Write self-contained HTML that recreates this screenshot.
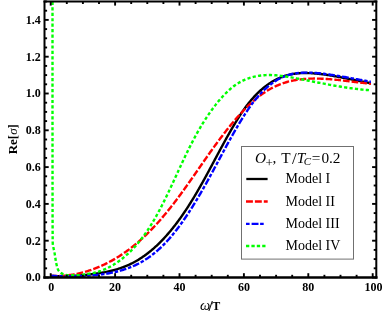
<!DOCTYPE html>
<html><head><meta charset="utf-8">
<style>
html,body{margin:0;padding:0;background:#fff;}
body{width:382px;height:319px;overflow:hidden;}
svg{display:block;}
text{font-family:"Liberation Serif",serif;}
svg{will-change:transform;}
</style></head><body>
<svg width="382" height="319" viewBox="0 0 382 319">
<rect width="382" height="319" fill="#fff"/>
<defs><clipPath id="c"><rect x="44.5" y="1.4" width="326.4" height="276.0"/></clipPath></defs>
<g clip-path="url(#c)" fill="none" stroke-width="2.4" stroke-linejoin="round">
<path d="M50.74 275.94 L51.77 275.99 L52.80 276.03 L53.84 276.07 L54.87 276.10 L55.91 276.13 L56.94 276.15 L57.98 276.17 L59.01 276.18 L60.05 276.19 L61.09 276.19 L62.13 276.19 L63.17 276.18 L64.21 276.17 L65.25 276.16 L66.29 276.14 L67.33 276.11 L68.37 276.08 L69.42 276.05 L70.46 276.01 L71.51 275.96 L72.55 275.92 L73.60 275.86 L74.65 275.80 L75.69 275.74 L76.74 275.68 L77.79 275.60 L78.84 275.53 L79.89 275.45 L80.95 275.36 L82.00 275.28 L83.05 275.18 L84.11 275.08 L85.16 274.98 L86.22 274.88 L87.28 274.76 L88.33 274.65 L89.39 274.53 L90.45 274.41 L91.51 274.28 L92.57 274.14 L93.63 274.01 L94.69 273.86 L95.75 273.72 L96.81 273.56 L97.87 273.40 L98.93 273.24 L99.99 273.07 L101.05 272.89 L102.10 272.71 L103.16 272.52 L104.21 272.32 L105.26 272.11 L106.31 271.90 L107.36 271.68 L108.40 271.46 L109.44 271.22 L110.48 270.98 L111.51 270.73 L112.54 270.47 L113.57 270.20 L114.60 269.92 L115.62 269.64 L116.63 269.34 L117.64 269.04 L118.65 268.72 L119.65 268.40 L120.65 268.06 L121.64 267.72 L122.63 267.36 L123.61 267.00 L124.58 266.62 L125.55 266.23 L126.51 265.83 L127.47 265.42 L128.42 265.00 L129.36 264.56 L130.30 264.12 L131.23 263.67 L132.16 263.20 L133.08 262.73 L134.00 262.24 L134.90 261.75 L135.81 261.24 L136.70 260.72 L137.59 260.20 L138.48 259.67 L139.36 259.12 L140.23 258.57 L141.10 258.01 L141.96 257.44 L142.82 256.86 L143.67 256.27 L144.52 255.67 L145.36 255.06 L146.19 254.45 L147.02 253.83 L147.84 253.20 L148.66 252.56 L149.48 251.91 L150.28 251.26 L151.09 250.60 L151.88 249.93 L152.68 249.25 L153.46 248.57 L154.25 247.88 L155.02 247.18 L155.80 246.48 L156.56 245.77 L157.32 245.05 L158.08 244.33 L158.83 243.60 L159.58 242.86 L160.32 242.12 L161.06 241.38 L161.79 240.63 L162.52 239.87 L163.24 239.10 L163.96 238.34 L164.68 237.56 L165.39 236.78 L166.09 236.00 L166.79 235.21 L167.49 234.42 L168.18 233.62 L168.87 232.82 L169.55 232.02 L170.23 231.21 L170.90 230.40 L171.57 229.58 L172.24 228.76 L172.90 227.94 L173.55 227.11 L174.21 226.28 L174.85 225.45 L175.50 224.61 L176.14 223.77 L176.78 222.93 L177.41 222.09 L178.04 221.24 L178.66 220.39 L179.28 219.54 L179.90 218.69 L180.51 217.83 L181.12 216.98 L181.73 216.12 L182.33 215.25 L182.93 214.39 L183.52 213.53 L184.11 212.66 L184.70 211.79 L185.29 210.92 L185.87 210.04 L186.45 209.17 L187.02 208.29 L187.60 207.41 L188.17 206.53 L188.73 205.65 L189.30 204.77 L189.86 203.88 L190.42 203.00 L190.97 202.11 L191.52 201.22 L192.07 200.33 L192.62 199.43 L193.17 198.54 L193.71 197.64 L194.25 196.75 L194.79 195.85 L195.32 194.95 L195.86 194.05 L196.39 193.14 L196.92 192.24 L197.45 191.34 L197.97 190.43 L198.50 189.52 L199.02 188.62 L199.54 187.71 L200.06 186.80 L200.57 185.88 L201.09 184.97 L201.60 184.06 L202.11 183.15 L202.63 182.23 L203.14 181.32 L203.64 180.40 L204.15 179.48 L204.66 178.56 L205.16 177.64 L205.66 176.73 L206.17 175.81 L206.67 174.89 L207.17 173.96 L207.67 173.04 L208.17 172.12 L208.66 171.20 L209.16 170.27 L209.66 169.35 L210.15 168.43 L210.65 167.50 L211.15 166.58 L211.64 165.65 L212.14 164.73 L212.63 163.80 L213.12 162.88 L213.62 161.95 L214.11 161.03 L214.61 160.10 L215.10 159.18 L215.59 158.25 L216.09 157.32 L216.58 156.40 L217.08 155.47 L217.57 154.55 L218.07 153.62 L218.56 152.70 L219.06 151.77 L219.56 150.85 L220.05 149.92 L220.55 149.00 L221.05 148.07 L221.55 147.15 L222.05 146.23 L222.55 145.31 L223.05 144.38 L223.56 143.46 L224.06 142.54 L224.57 141.62 L225.07 140.70 L225.58 139.78 L226.09 138.86 L226.60 137.94 L227.11 137.03 L227.63 136.11 L228.14 135.19 L228.66 134.28 L229.18 133.37 L229.70 132.45 L230.22 131.54 L230.74 130.63 L231.27 129.72 L231.79 128.81 L232.32 127.90 L232.85 126.99 L233.39 126.09 L233.92 125.18 L234.46 124.28 L235.00 123.38 L235.54 122.48 L236.09 121.58 L236.64 120.68 L237.19 119.78 L237.74 118.89 L238.30 118.00 L238.86 117.11 L239.43 116.22 L240.00 115.34 L240.57 114.46 L241.15 113.58 L241.73 112.70 L242.32 111.83 L242.91 110.96 L243.51 110.10 L244.12 109.24 L244.73 108.38 L245.34 107.53 L245.96 106.68 L246.59 105.84 L247.23 105.00 L247.87 104.17 L248.52 103.34 L249.17 102.52 L249.83 101.70 L250.50 100.89 L251.18 100.08 L251.87 99.28 L252.56 98.49 L253.27 97.70 L253.98 96.92 L254.70 96.14 L255.42 95.38 L256.16 94.62 L256.90 93.87 L257.65 93.13 L258.41 92.39 L259.17 91.67 L259.95 90.95 L260.73 90.25 L261.52 89.55 L262.31 88.87 L263.12 88.19 L263.93 87.53 L264.75 86.87 L265.57 86.23 L266.40 85.60 L267.24 84.99 L268.09 84.38 L268.95 83.79 L269.81 83.21 L270.68 82.65 L271.55 82.10 L272.44 81.56 L273.33 81.04 L274.22 80.53 L275.13 80.03 L276.04 79.56 L276.96 79.09 L277.88 78.65 L278.81 78.22 L279.75 77.80 L280.69 77.41 L281.64 77.03 L282.60 76.67 L283.56 76.32 L284.53 76.00 L285.51 75.69 L286.49 75.40 L287.48 75.13 L288.48 74.88 L289.48 74.64 L290.48 74.43 L291.49 74.23 L292.51 74.05 L293.53 73.88 L294.56 73.73 L295.59 73.60 L296.62 73.48 L297.66 73.38 L298.70 73.29 L299.75 73.21 L300.80 73.15 L301.85 73.11 L302.90 73.07 L303.96 73.05 L305.02 73.04 L306.08 73.04 L307.15 73.06 L308.21 73.08 L309.28 73.12 L310.35 73.16 L311.42 73.22 L312.49 73.28 L313.56 73.36 L314.64 73.44 L315.71 73.54 L316.78 73.64 L317.85 73.74 L318.93 73.86 L320.00 73.98 L321.07 74.11 L322.14 74.24 L323.21 74.38 L324.27 74.53 L325.34 74.68 L326.40 74.84 L327.46 75.00 L328.52 75.16 L329.58 75.33 L330.63 75.50 L331.68 75.67 L332.73 75.85 L333.77 76.03 L334.82 76.21 L335.85 76.39 L336.89 76.58 L337.93 76.76 L338.96 76.95 L339.99 77.14 L341.02 77.33 L342.04 77.53 L343.07 77.72 L344.09 77.92 L345.11 78.12 L346.13 78.32 L347.15 78.52 L348.17 78.72 L349.18 78.92 L350.20 79.12 L351.22 79.33 L352.23 79.53 L353.25 79.73 L354.26 79.94 L355.28 80.14 L356.29 80.35 L357.31 80.55 L358.32 80.76 L359.34 80.97 L360.36 81.17 L361.38 81.37 L362.40 81.58 L363.42 81.78 L364.44 81.99 L365.46 82.19 L366.48 82.39 L367.51 82.59 L368.54 82.79 L369.57 82.99 L370.60 83.18 L371.63 83.38 L372.67 83.57" stroke="#000"/>
<path d="M50.61 275.78 L51.64 275.84 L52.67 275.89 L53.70 275.92 L54.73 275.95 L55.75 275.96 L56.78 275.96 L57.80 275.95 L58.83 275.93 L59.85 275.90 L60.87 275.86 L61.89 275.81 L62.90 275.75 L63.92 275.68 L64.93 275.59 L65.95 275.50 L66.96 275.40 L67.97 275.28 L68.97 275.16 L69.98 275.03 L70.98 274.88 L71.98 274.73 L72.98 274.57 L73.98 274.40 L74.98 274.22 L75.97 274.03 L76.96 273.83 L77.95 273.62 L78.94 273.40 L79.93 273.17 L80.91 272.93 L81.89 272.69 L82.87 272.43 L83.85 272.17 L84.82 271.90 L85.79 271.62 L86.76 271.33 L87.73 271.03 L88.69 270.72 L89.65 270.41 L90.61 270.09 L91.57 269.76 L92.52 269.42 L93.47 269.07 L94.42 268.72 L95.36 268.35 L96.31 267.98 L97.24 267.61 L98.18 267.22 L99.11 266.83 L100.04 266.43 L100.97 266.02 L101.90 265.61 L102.82 265.19 L103.73 264.76 L104.65 264.32 L105.56 263.88 L106.47 263.43 L107.37 262.97 L108.27 262.51 L109.17 262.04 L110.07 261.56 L110.96 261.08 L111.85 260.59 L112.73 260.10 L113.61 259.59 L114.49 259.09 L115.36 258.57 L116.23 258.05 L117.09 257.53 L117.95 257.00 L118.81 256.46 L119.67 255.92 L120.52 255.37 L121.36 254.82 L122.20 254.26 L123.04 253.69 L123.87 253.13 L124.70 252.55 L125.53 251.97 L126.35 251.39 L127.17 250.80 L127.98 250.20 L128.79 249.60 L129.59 249.00 L130.40 248.39 L131.19 247.78 L131.99 247.16 L132.78 246.54 L133.56 245.91 L134.34 245.28 L135.12 244.64 L135.89 244.00 L136.66 243.36 L137.43 242.71 L138.19 242.05 L138.95 241.40 L139.71 240.73 L140.46 240.07 L141.21 239.40 L141.96 238.72 L142.70 238.05 L143.44 237.36 L144.17 236.68 L144.91 235.99 L145.63 235.29 L146.36 234.60 L147.08 233.90 L147.80 233.19 L148.52 232.48 L149.23 231.77 L149.94 231.06 L150.65 230.34 L151.35 229.62 L152.05 228.89 L152.75 228.16 L153.45 227.43 L154.14 226.70 L154.83 225.96 L155.52 225.22 L156.20 224.47 L156.88 223.73 L157.56 222.98 L158.24 222.22 L158.91 221.47 L159.58 220.71 L160.25 219.95 L160.91 219.18 L161.58 218.42 L162.24 217.65 L162.90 216.88 L163.55 216.10 L164.21 215.33 L164.86 214.55 L165.51 213.76 L166.15 212.98 L166.80 212.20 L167.44 211.41 L168.08 210.62 L168.72 209.82 L169.36 209.03 L169.99 208.23 L170.62 207.44 L171.25 206.63 L171.88 205.83 L172.51 205.03 L173.13 204.22 L173.76 203.42 L174.38 202.61 L175.00 201.80 L175.62 200.98 L176.23 200.17 L176.85 199.35 L177.46 198.54 L178.07 197.72 L178.68 196.90 L179.29 196.08 L179.90 195.26 L180.50 194.44 L181.11 193.61 L181.71 192.79 L182.31 191.96 L182.91 191.13 L183.51 190.30 L184.11 189.48 L184.71 188.65 L185.30 187.82 L185.90 186.98 L186.49 186.15 L187.08 185.32 L187.67 184.49 L188.26 183.65 L188.85 182.82 L189.44 181.98 L190.03 181.15 L190.62 180.31 L191.20 179.48 L191.79 178.64 L192.37 177.81 L192.96 176.97 L193.54 176.14 L194.12 175.30 L194.71 174.46 L195.29 173.63 L195.87 172.79 L196.45 171.95 L197.03 171.12 L197.61 170.28 L198.19 169.45 L198.77 168.61 L199.35 167.78 L199.93 166.95 L200.50 166.11 L201.08 165.28 L201.66 164.45 L202.24 163.62 L202.82 162.79 L203.39 161.96 L203.97 161.13 L204.55 160.30 L205.13 159.47 L205.71 158.64 L206.28 157.82 L206.86 156.99 L207.44 156.17 L208.02 155.35 L208.60 154.53 L209.18 153.70 L209.76 152.88 L210.34 152.07 L210.92 151.25 L211.51 150.43 L212.09 149.61 L212.67 148.80 L213.26 147.99 L213.85 147.17 L214.43 146.36 L215.02 145.55 L215.61 144.74 L216.20 143.93 L216.80 143.12 L217.39 142.32 L217.98 141.51 L218.58 140.71 L219.18 139.90 L219.78 139.10 L220.38 138.30 L220.99 137.50 L221.59 136.70 L222.20 135.90 L222.81 135.10 L223.42 134.31 L224.04 133.51 L224.65 132.72 L225.27 131.92 L225.89 131.13 L226.51 130.34 L227.14 129.55 L227.77 128.76 L228.40 127.98 L229.03 127.19 L229.67 126.40 L230.31 125.62 L230.95 124.84 L231.59 124.06 L232.24 123.27 L232.89 122.50 L233.55 121.72 L234.21 120.94 L234.87 120.16 L235.53 119.39 L236.20 118.62 L236.87 117.84 L237.54 117.07 L238.22 116.31 L238.90 115.54 L239.59 114.78 L240.27 114.02 L240.97 113.26 L241.66 112.51 L242.36 111.75 L243.07 111.01 L243.78 110.26 L244.49 109.52 L245.20 108.79 L245.92 108.06 L246.65 107.33 L247.38 106.61 L248.11 105.89 L248.85 105.18 L249.59 104.47 L250.33 103.77 L251.08 103.08 L251.84 102.39 L252.60 101.71 L253.36 101.04 L254.13 100.37 L254.91 99.71 L255.68 99.05 L256.47 98.41 L257.26 97.77 L258.05 97.14 L258.85 96.52 L259.65 95.90 L260.46 95.30 L261.27 94.70 L262.09 94.11 L262.92 93.54 L263.75 92.97 L264.58 92.41 L265.42 91.86 L266.27 91.32 L267.12 90.79 L267.97 90.27 L268.83 89.77 L269.70 89.27 L270.57 88.78 L271.45 88.31 L272.33 87.84 L273.22 87.39 L274.11 86.95 L275.01 86.52 L275.91 86.10 L276.82 85.69 L277.73 85.29 L278.64 84.90 L279.56 84.53 L280.49 84.17 L281.41 83.82 L282.35 83.48 L283.28 83.15 L284.22 82.84 L285.17 82.54 L286.12 82.25 L287.07 81.98 L288.03 81.71 L288.99 81.46 L289.95 81.22 L290.92 80.99 L291.89 80.78 L292.87 80.57 L293.84 80.38 L294.82 80.20 L295.81 80.03 L296.80 79.86 L297.79 79.71 L298.78 79.57 L299.77 79.44 L300.77 79.32 L301.77 79.21 L302.77 79.11 L303.78 79.02 L304.79 78.94 L305.80 78.86 L306.81 78.80 L307.82 78.74 L308.84 78.69 L309.85 78.65 L310.87 78.62 L311.89 78.60 L312.92 78.58 L313.94 78.57 L314.96 78.57 L315.99 78.57 L317.02 78.58 L318.04 78.60 L319.07 78.62 L320.10 78.65 L321.13 78.69 L322.17 78.73 L323.20 78.78 L324.23 78.83 L325.26 78.89 L326.29 78.95 L327.33 79.02 L328.36 79.09 L329.39 79.17 L330.43 79.25 L331.46 79.34 L332.49 79.43 L333.52 79.52 L334.56 79.62 L335.59 79.72 L336.62 79.82 L337.65 79.92 L338.68 80.03 L339.70 80.14 L340.73 80.25 L341.76 80.37 L342.78 80.49 L343.80 80.60 L344.83 80.72 L345.85 80.84 L346.86 80.97 L347.88 81.09 L348.90 81.21 L349.91 81.34 L350.92 81.46 L351.93 81.59 L352.94 81.71 L353.94 81.84 L354.95 81.96 L355.95 82.09 L356.94 82.21 L357.94 82.33 L358.93 82.45 L359.92 82.57 L360.91 82.69 L361.89 82.80 L362.87 82.92 L363.85 83.03 L364.82 83.14 L365.79 83.24 L366.76 83.35 L367.72 83.45 L368.68 83.55 L369.64 83.64 L370.59 83.73 L371.54 83.82 L372.49 83.90" stroke="#f00" stroke-dasharray="6.7 2.0"/>
<path d="M50.74 275.89 L51.72 275.92 L52.71 275.96 L53.70 275.99 L54.70 276.02 L55.70 276.05 L56.71 276.08 L57.72 276.10 L58.74 276.13 L59.76 276.15 L60.78 276.18 L61.81 276.20 L62.84 276.21 L63.88 276.23 L64.92 276.24 L65.96 276.25 L67.01 276.26 L68.06 276.27 L69.11 276.27 L70.17 276.27 L71.23 276.27 L72.29 276.26 L73.35 276.25 L74.41 276.24 L75.48 276.22 L76.55 276.20 L77.62 276.18 L78.69 276.15 L79.77 276.12 L80.84 276.08 L81.92 276.04 L83.00 276.00 L84.08 275.95 L85.15 275.89 L86.23 275.84 L87.32 275.77 L88.40 275.70 L89.48 275.63 L90.56 275.55 L91.64 275.46 L92.72 275.37 L93.80 275.28 L94.88 275.17 L95.96 275.07 L97.04 274.95 L98.12 274.83 L99.19 274.71 L100.27 274.57 L101.34 274.43 L102.41 274.29 L103.48 274.13 L104.55 273.97 L105.62 273.81 L106.68 273.63 L107.75 273.45 L108.81 273.26 L109.86 273.07 L110.92 272.86 L111.97 272.65 L113.02 272.43 L114.06 272.20 L115.11 271.96 L116.15 271.72 L117.18 271.47 L118.21 271.20 L119.24 270.93 L120.26 270.65 L121.28 270.37 L122.30 270.07 L123.31 269.76 L124.32 269.45 L125.32 269.12 L126.32 268.79 L127.31 268.44 L128.30 268.09 L129.28 267.72 L130.25 267.35 L131.22 266.96 L132.19 266.57 L133.15 266.16 L134.10 265.75 L135.05 265.32 L135.99 264.88 L136.92 264.43 L137.85 263.97 L138.77 263.50 L139.68 263.02 L140.59 262.53 L141.49 262.03 L142.39 261.51 L143.27 260.99 L144.15 260.45 L145.03 259.90 L145.90 259.35 L146.76 258.78 L147.62 258.21 L148.46 257.62 L149.31 257.03 L150.15 256.42 L150.98 255.81 L151.80 255.19 L152.62 254.56 L153.44 253.92 L154.24 253.27 L155.05 252.61 L155.84 251.95 L156.63 251.27 L157.42 250.59 L158.20 249.90 L158.97 249.20 L159.74 248.50 L160.50 247.79 L161.26 247.07 L162.01 246.34 L162.76 245.61 L163.50 244.87 L164.24 244.12 L164.97 243.36 L165.70 242.60 L166.42 241.84 L167.14 241.06 L167.85 240.28 L168.56 239.50 L169.26 238.71 L169.96 237.91 L170.66 237.11 L171.34 236.30 L172.03 235.49 L172.71 234.68 L173.38 233.85 L174.06 233.03 L174.72 232.20 L175.39 231.36 L176.04 230.52 L176.70 229.68 L177.35 228.83 L177.99 227.98 L178.64 227.12 L179.28 226.27 L179.91 225.40 L180.54 224.54 L181.17 223.67 L181.79 222.80 L182.41 221.93 L183.03 221.05 L183.64 220.17 L184.25 219.29 L184.85 218.40 L185.45 217.52 L186.05 216.63 L186.65 215.74 L187.24 214.85 L187.83 213.96 L188.42 213.07 L189.00 212.17 L189.58 211.27 L190.15 210.38 L190.73 209.48 L191.30 208.58 L191.87 207.68 L192.43 206.78 L193.00 205.88 L193.56 204.97 L194.11 204.07 L194.67 203.16 L195.22 202.26 L195.77 201.35 L196.32 200.44 L196.86 199.53 L197.41 198.62 L197.95 197.71 L198.49 196.80 L199.02 195.89 L199.56 194.98 L200.09 194.07 L200.62 193.15 L201.15 192.24 L201.67 191.32 L202.20 190.41 L202.72 189.49 L203.24 188.57 L203.76 187.66 L204.28 186.74 L204.80 185.82 L205.31 184.90 L205.83 183.98 L206.34 183.06 L206.85 182.14 L207.36 181.22 L207.87 180.30 L208.38 179.38 L208.88 178.46 L209.39 177.54 L209.89 176.62 L210.40 175.69 L210.90 174.77 L211.40 173.85 L211.90 172.93 L212.40 172.00 L212.90 171.08 L213.40 170.16 L213.90 169.23 L214.39 168.31 L214.89 167.39 L215.39 166.46 L215.88 165.54 L216.38 164.62 L216.87 163.69 L217.37 162.77 L217.87 161.85 L218.36 160.93 L218.86 160.00 L219.35 159.08 L219.85 158.16 L220.34 157.24 L220.84 156.31 L221.33 155.39 L221.83 154.47 L222.32 153.55 L222.82 152.63 L223.32 151.71 L223.82 150.79 L224.31 149.87 L224.81 148.95 L225.31 148.03 L225.81 147.11 L226.31 146.20 L226.81 145.28 L227.31 144.36 L227.82 143.45 L228.32 142.53 L228.83 141.62 L229.33 140.70 L229.84 139.79 L230.35 138.88 L230.86 137.96 L231.37 137.05 L231.88 136.14 L232.39 135.23 L232.91 134.32 L233.43 133.41 L233.94 132.51 L234.46 131.60 L234.98 130.69 L235.51 129.79 L236.03 128.88 L236.56 127.98 L237.09 127.08 L237.62 126.18 L238.15 125.28 L238.68 124.38 L239.22 123.48 L239.76 122.58 L240.30 121.69 L240.84 120.79 L241.39 119.90 L241.93 119.01 L242.48 118.12 L243.04 117.23 L243.59 116.34 L244.15 115.45 L244.71 114.57 L245.28 113.69 L245.85 112.81 L246.43 111.93 L247.01 111.05 L247.59 110.18 L248.18 109.31 L248.78 108.44 L249.38 107.58 L249.98 106.72 L250.60 105.86 L251.22 105.00 L251.84 104.15 L252.47 103.31 L253.11 102.46 L253.76 101.62 L254.42 100.79 L255.08 99.96 L255.75 99.13 L256.43 98.31 L257.11 97.49 L257.81 96.68 L258.51 95.87 L259.22 95.07 L259.94 94.28 L260.67 93.50 L261.41 92.72 L262.15 91.95 L262.90 91.20 L263.66 90.45 L264.43 89.71 L265.21 88.98 L265.99 88.26 L266.78 87.55 L267.58 86.85 L268.39 86.17 L269.20 85.50 L270.03 84.84 L270.86 84.19 L271.70 83.56 L272.55 82.94 L273.40 82.34 L274.27 81.75 L275.14 81.18 L276.02 80.62 L276.90 80.08 L277.80 79.56 L278.70 79.06 L279.61 78.57 L280.53 78.10 L281.45 77.65 L282.39 77.22 L283.33 76.81 L284.28 76.42 L285.23 76.05 L286.20 75.70 L287.17 75.37 L288.15 75.06 L289.14 74.78 L290.13 74.51 L291.13 74.26 L292.14 74.04 L293.15 73.83 L294.17 73.64 L295.19 73.46 L296.22 73.31 L297.25 73.17 L298.29 73.04 L299.33 72.94 L300.38 72.85 L301.43 72.77 L302.49 72.71 L303.55 72.66 L304.61 72.62 L305.67 72.60 L306.74 72.59 L307.81 72.60 L308.88 72.61 L309.95 72.64 L311.03 72.68 L312.10 72.72 L313.18 72.78 L314.26 72.85 L315.34 72.93 L316.42 73.01 L317.49 73.10 L318.57 73.21 L319.65 73.31 L320.73 73.43 L321.80 73.55 L322.87 73.68 L323.95 73.81 L325.02 73.95 L326.09 74.09 L327.15 74.23 L328.21 74.38 L329.27 74.54 L330.33 74.69 L331.39 74.85 L332.43 75.01 L333.48 75.17 L334.52 75.33 L335.56 75.50 L336.60 75.67 L337.63 75.83 L338.67 76.00 L339.70 76.17 L340.72 76.35 L341.75 76.52 L342.77 76.70 L343.80 76.87 L344.82 77.05 L345.84 77.23 L346.86 77.41 L347.88 77.59 L348.90 77.77 L349.92 77.96 L350.94 78.14 L351.96 78.33 L352.98 78.51 L354.00 78.70 L355.02 78.89 L356.04 79.08 L357.07 79.26 L358.09 79.45 L359.12 79.65 L360.15 79.84 L361.18 80.03 L362.22 80.22 L363.26 80.41 L364.30 80.61 L365.34 80.80 L366.39 80.99 L367.44 81.19 L368.49 81.38 L369.55 81.57 L370.61 81.77 L371.68 81.96 L372.75 82.16" stroke="#00f" stroke-dasharray="6.8 1.8 3.5 1.8"/>
<path d="M52.50 -20.00 L52.50 -18.34 L52.50 -16.68 L52.50 -15.02 L52.50 -13.36 L52.50 -11.70 L52.50 -10.04 L52.50 -8.38 L52.50 -6.73 L52.50 -5.07 L52.50 -3.41 L52.50 -1.75 L52.50 -0.09 L52.50 1.57 L52.50 3.23 L52.50 4.89 L52.50 6.55 L52.50 8.21 L52.50 9.87 L52.50 11.53 L52.50 13.19 L52.50 14.85 L52.50 16.51 L52.50 18.16 L52.50 19.82 L52.50 21.48 L52.50 23.14 L52.50 24.80 L52.50 26.46 L52.50 28.12 L52.50 29.78 L52.50 31.44 L52.50 33.10 L52.50 34.76 L52.50 36.42 L52.50 38.08 L52.50 39.74 L52.50 41.40 L52.50 43.05 L52.50 44.71 L52.50 46.37 L52.50 48.03 L52.50 49.69 L52.50 51.35 L52.50 53.01 L52.50 54.67 L52.50 56.33 L52.50 57.99 L52.50 59.65 L52.50 61.31 L52.50 62.97 L52.50 64.63 L52.50 66.29 L52.50 67.94 L52.50 69.60 L52.50 71.26 L52.50 72.92 L52.50 74.58 L52.50 76.24 L52.50 77.90 L52.50 79.56 L52.50 81.22 L52.50 82.88 L52.50 84.54 L52.50 86.20 L52.50 87.86 L52.50 89.52 L52.50 91.18 L52.50 92.83 L52.50 94.49 L52.50 96.15 L52.50 97.81 L52.50 99.47 L52.50 101.13 L52.50 102.79 L52.50 104.45 L52.50 106.11 L52.50 107.77 L52.50 109.43 L52.50 111.09 L52.50 112.75 L52.50 114.41 L52.50 116.07 L52.50 117.72 L52.50 119.38 L52.50 121.04 L52.50 122.70 L52.50 124.36 L52.50 126.02 L52.50 127.68 L52.50 129.34 L52.50 131.00 L52.51 132.66 L52.51 134.32 L52.51 135.98 L52.51 137.64 L52.51 139.30 L52.51 140.96 L52.51 142.61 L52.51 144.27 L52.51 145.93 L52.51 147.59 L52.51 149.25 L52.51 150.91 L52.51 152.57 L52.52 154.23 L52.52 155.89 L52.52 157.55 L52.52 159.21 L52.52 160.87 L52.52 162.53 L52.52 164.19 L52.52 165.85 L52.52 167.51 L52.52 169.16 L52.53 170.82 L52.53 172.48 L52.53 174.14 L52.53 175.80 L52.53 177.46 L52.53 179.12 L52.53 180.78 L52.53 182.44 L52.54 184.10 L52.54 185.76 L52.54 187.42 L52.54 189.08 L52.54 190.74 L52.54 192.40 L52.54 194.05 L52.55 195.71 L52.55 197.37 L52.55 199.03 L52.55 200.69 L52.55 202.35 L52.55 204.01 L52.56 205.68 L52.56 207.34 L52.56 209.00 L52.56 210.67 L52.56 212.33 L52.57 214.00 L52.57 215.66 L52.57 217.32 L52.58 218.99 L52.58 220.65 L52.59 222.32 L52.59 223.98 L52.60 225.64 L52.61 227.30 L52.61 228.96 L52.62 230.62 L52.63 232.27 L52.64 233.93 L52.65 235.58 L52.66 237.23 L52.67 238.88 L52.68 240.53 L52.70 242.18 L52.77 243.82 L52.98 245.46 L53.29 247.09 L53.66 248.72 L54.04 250.35 L54.39 251.98 L54.67 253.62 L54.93 255.26 L55.18 256.90 L55.43 258.55 L55.69 260.19 L55.98 261.82 L56.30 263.44 L56.66 265.08 L57.06 266.77 L57.54 268.41 L58.13 269.87 L58.97 271.16 L60.21 272.38 L61.66 273.39 L63.11 274.06 L64.67 274.59 L66.33 275.00 L68.01 275.19 L69.65 275.20 L71.31 275.20 L72.97 275.20 L74.64 275.20 L76.30 275.20 L77.96 275.18 L79.61 275.05 L81.25 274.83 L82.90 274.57 L84.54 274.32 L86.19 274.10 L87.84 273.87 L89.49 273.63 L91.14 273.38 L92.78 273.09 L94.40 272.77 L96.00 272.40 L97.34 272.01 L98.56 271.64 L99.77 271.23 L100.97 270.81 L102.16 270.36 L103.34 269.89 L104.51 269.40 L105.67 268.89 L106.82 268.36 L107.96 267.80 L109.08 267.23 L110.20 266.64 L111.31 266.02 L112.40 265.39 L113.49 264.75 L114.56 264.08 L115.63 263.40 L116.68 262.70 L117.72 261.99 L118.76 261.26 L119.78 260.52 L120.79 259.76 L121.79 258.99 L122.77 258.21 L123.75 257.41 L124.72 256.60 L125.67 255.79 L126.61 254.96 L127.55 254.11 L128.47 253.26 L129.38 252.40 L130.28 251.53 L131.17 250.64 L132.05 249.75 L132.92 248.85 L133.78 247.94 L134.63 247.01 L135.47 246.08 L136.31 245.14 L137.13 244.19 L137.94 243.24 L138.75 242.27 L139.54 241.30 L140.33 240.31 L141.11 239.32 L141.88 238.33 L142.64 237.32 L143.39 236.31 L144.14 235.29 L144.88 234.26 L145.61 233.22 L146.33 232.18 L147.04 231.14 L147.75 230.08 L148.45 229.02 L149.15 227.96 L149.84 226.89 L150.52 225.81 L151.19 224.73 L151.86 223.64 L152.52 222.55 L153.18 221.46 L153.83 220.35 L154.47 219.25 L155.11 218.14 L155.74 217.03 L156.37 215.91 L156.99 214.79 L157.61 213.66 L158.23 212.54 L158.83 211.41 L159.44 210.27 L160.04 209.14 L160.63 208.00 L161.22 206.86 L161.81 205.72 L162.39 204.57 L162.97 203.43 L163.55 202.28 L164.12 201.13 L164.69 199.98 L165.26 198.83 L165.82 197.67 L166.38 196.52 L166.94 195.37 L167.50 194.21 L168.05 193.06 L168.60 191.90 L169.15 190.74 L169.70 189.59 L170.24 188.43 L170.79 187.27 L171.33 186.11 L171.87 184.96 L172.41 183.80 L172.94 182.64 L173.48 181.48 L174.02 180.32 L174.55 179.16 L175.09 178.00 L175.62 176.85 L176.15 175.69 L176.69 174.53 L177.22 173.37 L177.75 172.22 L178.29 171.06 L178.82 169.90 L179.35 168.75 L179.89 167.59 L180.42 166.44 L180.96 165.29 L181.50 164.13 L182.03 162.98 L182.57 161.83 L183.11 160.68 L183.66 159.53 L184.20 158.39 L184.75 157.24 L185.29 156.10 L185.84 154.95 L186.39 153.81 L186.95 152.67 L187.50 151.53 L188.06 150.39 L188.62 149.26 L189.19 148.12 L189.76 146.99 L190.33 145.86 L190.90 144.73 L191.48 143.61 L192.06 142.48 L192.64 141.36 L193.23 140.24 L193.82 139.12 L194.42 138.00 L195.02 136.89 L195.62 135.78 L196.23 134.67 L196.84 133.56 L197.46 132.46 L198.08 131.36 L198.71 130.26 L199.34 129.17 L199.98 128.07 L200.63 126.98 L201.28 125.90 L201.93 124.81 L202.59 123.73 L203.26 122.65 L203.93 121.58 L204.61 120.51 L205.29 119.44 L205.98 118.37 L206.68 117.31 L207.39 116.25 L208.10 115.20 L208.82 114.15 L209.54 113.10 L210.27 112.06 L211.01 111.02 L211.76 109.98 L212.52 108.95 L213.28 107.92 L214.05 106.90 L214.83 105.88 L215.62 104.86 L216.41 103.85 L217.22 102.85 L218.03 101.85 L218.85 100.85 L219.68 99.86 L220.52 98.89 L221.37 97.92 L222.23 96.96 L223.10 96.01 L223.98 95.07 L224.87 94.15 L225.77 93.24 L226.68 92.34 L227.60 91.46 L228.53 90.60 L229.48 89.75 L230.43 88.92 L231.40 88.11 L232.38 87.32 L233.37 86.55 L234.37 85.80 L235.39 85.07 L236.42 84.37 L237.46 83.69 L238.51 83.03 L239.58 82.40 L240.66 81.80 L241.75 81.22 L242.86 80.67 L243.98 80.15 L245.11 79.65 L246.25 79.18 L247.41 78.73 L248.57 78.32 L249.75 77.92 L250.93 77.56 L252.12 77.22 L253.32 76.90 L254.53 76.61 L255.75 76.34 L256.97 76.10 L258.20 75.89 L259.43 75.70 L260.68 75.53 L261.92 75.39 L263.17 75.27 L264.43 75.18 L265.68 75.11 L266.94 75.06 L268.21 75.04 L269.48 75.04 L270.74 75.05 L272.02 75.09 L273.29 75.15 L274.56 75.22 L275.84 75.31 L277.12 75.42 L278.40 75.54 L279.68 75.68 L280.96 75.83 L282.24 75.99 L283.52 76.16 L284.80 76.34 L286.08 76.54 L287.36 76.74 L288.64 76.95 L289.92 77.17 L291.20 77.39 L292.47 77.62 L293.75 77.85 L295.02 78.08 L296.29 78.32 L297.56 78.56 L298.83 78.80 L300.09 79.04 L301.35 79.29 L302.61 79.53 L303.87 79.77 L305.12 80.02 L306.38 80.26 L307.63 80.51 L308.88 80.75 L310.13 81.00 L311.37 81.24 L312.62 81.49 L313.86 81.73 L315.11 81.97 L316.35 82.22 L317.59 82.46 L318.83 82.70 L320.07 82.94 L321.31 83.18 L322.55 83.42 L323.79 83.65 L325.03 83.89 L326.27 84.12 L327.51 84.35 L328.74 84.58 L329.98 84.81 L331.22 85.04 L332.46 85.26 L333.70 85.48 L334.93 85.70 L336.17 85.91 L337.41 86.12 L338.65 86.33 L339.90 86.54 L341.14 86.74 L342.38 86.94 L343.63 87.14 L344.87 87.33 L346.12 87.52 L347.37 87.71 L348.61 87.89 L349.87 88.07 L351.12 88.24 L352.37 88.41 L353.63 88.57 L354.89 88.73 L356.15 88.89 L357.41 89.03 L358.67 89.18 L359.94 89.32 L361.21 89.45 L362.48 89.58 L363.76 89.71 L365.03 89.82 L366.31 89.94 L367.60 90.04 L368.88 90.14 L370.17 90.24 L371.46 90.33 L372.76 90.41" stroke="#0f0" stroke-dasharray="3.2 2.25"/>
</g>
<g stroke="#000" stroke-width="1.9">
<line x1="50.70" y1="277.4" x2="50.70" y2="273.20"/>
<line x1="50.70" y1="1.4" x2="50.70" y2="5.60"/>
<line x1="66.80" y1="277.4" x2="66.80" y2="274.80"/>
<line x1="66.80" y1="1.4" x2="66.80" y2="4.00"/>
<line x1="82.90" y1="277.4" x2="82.90" y2="274.80"/>
<line x1="82.90" y1="1.4" x2="82.90" y2="4.00"/>
<line x1="99.00" y1="277.4" x2="99.00" y2="274.80"/>
<line x1="99.00" y1="1.4" x2="99.00" y2="4.00"/>
<line x1="115.10" y1="277.4" x2="115.10" y2="273.20"/>
<line x1="115.10" y1="1.4" x2="115.10" y2="5.60"/>
<line x1="131.20" y1="277.4" x2="131.20" y2="274.80"/>
<line x1="131.20" y1="1.4" x2="131.20" y2="4.00"/>
<line x1="147.30" y1="277.4" x2="147.30" y2="274.80"/>
<line x1="147.30" y1="1.4" x2="147.30" y2="4.00"/>
<line x1="163.40" y1="277.4" x2="163.40" y2="274.80"/>
<line x1="163.40" y1="1.4" x2="163.40" y2="4.00"/>
<line x1="179.50" y1="277.4" x2="179.50" y2="273.20"/>
<line x1="179.50" y1="1.4" x2="179.50" y2="5.60"/>
<line x1="195.60" y1="277.4" x2="195.60" y2="274.80"/>
<line x1="195.60" y1="1.4" x2="195.60" y2="4.00"/>
<line x1="211.70" y1="277.4" x2="211.70" y2="274.80"/>
<line x1="211.70" y1="1.4" x2="211.70" y2="4.00"/>
<line x1="227.80" y1="277.4" x2="227.80" y2="274.80"/>
<line x1="227.80" y1="1.4" x2="227.80" y2="4.00"/>
<line x1="243.90" y1="277.4" x2="243.90" y2="273.20"/>
<line x1="243.90" y1="1.4" x2="243.90" y2="5.60"/>
<line x1="260.00" y1="277.4" x2="260.00" y2="274.80"/>
<line x1="260.00" y1="1.4" x2="260.00" y2="4.00"/>
<line x1="276.10" y1="277.4" x2="276.10" y2="274.80"/>
<line x1="276.10" y1="1.4" x2="276.10" y2="4.00"/>
<line x1="292.20" y1="277.4" x2="292.20" y2="274.80"/>
<line x1="292.20" y1="1.4" x2="292.20" y2="4.00"/>
<line x1="308.30" y1="277.4" x2="308.30" y2="273.20"/>
<line x1="308.30" y1="1.4" x2="308.30" y2="5.60"/>
<line x1="324.40" y1="277.4" x2="324.40" y2="274.80"/>
<line x1="324.40" y1="1.4" x2="324.40" y2="4.00"/>
<line x1="340.50" y1="277.4" x2="340.50" y2="274.80"/>
<line x1="340.50" y1="1.4" x2="340.50" y2="4.00"/>
<line x1="356.60" y1="277.4" x2="356.60" y2="274.80"/>
<line x1="356.60" y1="1.4" x2="356.60" y2="4.00"/>
<line x1="372.70" y1="277.4" x2="372.70" y2="273.20"/>
<line x1="372.70" y1="1.4" x2="372.70" y2="5.60"/>
<line x1="44.5" y1="277.50" x2="48.70" y2="277.50"/>
<line x1="376.3" y1="277.50" x2="372.10" y2="277.50"/>
<line x1="44.5" y1="268.30" x2="47.10" y2="268.30"/>
<line x1="376.3" y1="268.30" x2="373.70" y2="268.30"/>
<line x1="44.5" y1="259.10" x2="47.10" y2="259.10"/>
<line x1="376.3" y1="259.10" x2="373.70" y2="259.10"/>
<line x1="44.5" y1="249.90" x2="47.10" y2="249.90"/>
<line x1="376.3" y1="249.90" x2="373.70" y2="249.90"/>
<line x1="44.5" y1="240.70" x2="48.70" y2="240.70"/>
<line x1="376.3" y1="240.70" x2="372.10" y2="240.70"/>
<line x1="44.5" y1="231.50" x2="47.10" y2="231.50"/>
<line x1="376.3" y1="231.50" x2="373.70" y2="231.50"/>
<line x1="44.5" y1="222.30" x2="47.10" y2="222.30"/>
<line x1="376.3" y1="222.30" x2="373.70" y2="222.30"/>
<line x1="44.5" y1="213.10" x2="47.10" y2="213.10"/>
<line x1="376.3" y1="213.10" x2="373.70" y2="213.10"/>
<line x1="44.5" y1="203.90" x2="48.70" y2="203.90"/>
<line x1="376.3" y1="203.90" x2="372.10" y2="203.90"/>
<line x1="44.5" y1="194.70" x2="47.10" y2="194.70"/>
<line x1="376.3" y1="194.70" x2="373.70" y2="194.70"/>
<line x1="44.5" y1="185.50" x2="47.10" y2="185.50"/>
<line x1="376.3" y1="185.50" x2="373.70" y2="185.50"/>
<line x1="44.5" y1="176.30" x2="47.10" y2="176.30"/>
<line x1="376.3" y1="176.30" x2="373.70" y2="176.30"/>
<line x1="44.5" y1="167.10" x2="48.70" y2="167.10"/>
<line x1="376.3" y1="167.10" x2="372.10" y2="167.10"/>
<line x1="44.5" y1="157.90" x2="47.10" y2="157.90"/>
<line x1="376.3" y1="157.90" x2="373.70" y2="157.90"/>
<line x1="44.5" y1="148.70" x2="47.10" y2="148.70"/>
<line x1="376.3" y1="148.70" x2="373.70" y2="148.70"/>
<line x1="44.5" y1="139.50" x2="47.10" y2="139.50"/>
<line x1="376.3" y1="139.50" x2="373.70" y2="139.50"/>
<line x1="44.5" y1="130.30" x2="48.70" y2="130.30"/>
<line x1="376.3" y1="130.30" x2="372.10" y2="130.30"/>
<line x1="44.5" y1="121.10" x2="47.10" y2="121.10"/>
<line x1="376.3" y1="121.10" x2="373.70" y2="121.10"/>
<line x1="44.5" y1="111.90" x2="47.10" y2="111.90"/>
<line x1="376.3" y1="111.90" x2="373.70" y2="111.90"/>
<line x1="44.5" y1="102.70" x2="47.10" y2="102.70"/>
<line x1="376.3" y1="102.70" x2="373.70" y2="102.70"/>
<line x1="44.5" y1="93.50" x2="48.70" y2="93.50"/>
<line x1="376.3" y1="93.50" x2="372.10" y2="93.50"/>
<line x1="44.5" y1="84.30" x2="47.10" y2="84.30"/>
<line x1="376.3" y1="84.30" x2="373.70" y2="84.30"/>
<line x1="44.5" y1="75.10" x2="47.10" y2="75.10"/>
<line x1="376.3" y1="75.10" x2="373.70" y2="75.10"/>
<line x1="44.5" y1="65.90" x2="47.10" y2="65.90"/>
<line x1="376.3" y1="65.90" x2="373.70" y2="65.90"/>
<line x1="44.5" y1="56.70" x2="48.70" y2="56.70"/>
<line x1="376.3" y1="56.70" x2="372.10" y2="56.70"/>
<line x1="44.5" y1="47.50" x2="47.10" y2="47.50"/>
<line x1="376.3" y1="47.50" x2="373.70" y2="47.50"/>
<line x1="44.5" y1="38.30" x2="47.10" y2="38.30"/>
<line x1="376.3" y1="38.30" x2="373.70" y2="38.30"/>
<line x1="44.5" y1="29.10" x2="47.10" y2="29.10"/>
<line x1="376.3" y1="29.10" x2="373.70" y2="29.10"/>
<line x1="44.5" y1="19.90" x2="48.70" y2="19.90"/>
<line x1="376.3" y1="19.90" x2="372.10" y2="19.90"/>
<line x1="44.5" y1="10.70" x2="47.10" y2="10.70"/>
<line x1="376.3" y1="10.70" x2="373.70" y2="10.70"/>
<line x1="44.5" y1="1.50" x2="47.10" y2="1.50"/>
<line x1="376.3" y1="1.50" x2="373.70" y2="1.50"/>
</g>
<g stroke="#000" stroke-linecap="square">
<line x1="44.5" y1="1.4" x2="376.3" y2="1.4" stroke-width="2"/>
<line x1="44.5" y1="277.54999999999995" x2="376.3" y2="277.54999999999995" stroke-width="2.5"/>
<line x1="44.5" y1="1.4" x2="44.5" y2="277.4" stroke-width="2"/>
<line x1="376.3" y1="1.4" x2="376.3" y2="277.4" stroke-width="2"/>
</g>
<g font-weight="bold" font-size="12px" fill="#000">
<text x="51.20" y="291" text-anchor="middle">0</text>
<text x="115.10" y="291" text-anchor="middle">20</text>
<text x="179.50" y="291" text-anchor="middle">40</text>
<text x="243.90" y="291" text-anchor="middle">60</text>
<text x="308.30" y="291" text-anchor="middle">80</text>
<text x="373.40" y="291" text-anchor="middle">100</text>
<text x="40.7" y="281.30" text-anchor="end">0.0</text>
<text x="40.7" y="244.50" text-anchor="end">0.2</text>
<text x="40.7" y="207.70" text-anchor="end">0.4</text>
<text x="40.7" y="170.90" text-anchor="end">0.6</text>
<text x="40.7" y="134.10" text-anchor="end">0.8</text>
<text x="40.7" y="97.30" text-anchor="end">1.0</text>
<text x="40.7" y="60.50" text-anchor="end">1.2</text>
<text x="40.7" y="23.70" text-anchor="end">1.4</text>
<text transform="translate(17.1,139.2) rotate(-90)" text-anchor="middle" font-size="13px">Re[<tspan font-style="italic" font-weight="normal">σ</tspan>]</text>
<text x="200.0" y="309.8" font-style="italic" font-weight="normal" font-size="14.5px">ω</text>
<text x="208.4" y="311.2" font-size="15px">/</text>
<text x="212.2" y="309.8">T</text>
</g>
<!-- legend -->
<rect x="241.5" y="146.5" width="112" height="112.6" fill="#fff" stroke="#707070" stroke-width="1"/>
<g font-size="14px" fill="#000">
<g font-size="15.3px">
<text y="162.8" font-style="italic" x="254.9">O</text>
<text y="166.8" font-size="13px" x="265.6">+</text>
<text y="162.8" x="272.6">,</text>
<text y="162.8" x="281.2">T</text>
<text y="163.5" x="292.0" font-size="17px">/</text>
<text y="162.8" font-style="italic" x="296.8">T</text>
<text y="164.5" font-style="italic" font-size="11px" x="303.7">C</text>
<text y="162.8" x="311.8">=</text>
<text y="162.8" x="321.5">0</text>
<text y="162.8" x="328.9">.</text>
<text y="162.8" x="332.8">2</text>
</g>
<text x="285.5" y="183.2">Model I</text>
<text x="285.5" y="205.5">Model II</text>
<text x="285.5" y="227.6">Model III</text>
<text x="285.5" y="249.6">Model IV</text>
</g>
<g fill="none" stroke-width="2.3">
<path d="M246.3 179.0H267.6" stroke="#000"/>
<path d="M246 201.5H267.7" stroke="#f00" stroke-dasharray="6.9 2"/>
<path d="M246 223.8H264.2" stroke="#00f" stroke-dasharray="3.6 2 6.9 1.6"/>
<path d="M246 246.0H265.7" stroke="#0f0" stroke-dasharray="3.3 2.1"/>
</g>
</svg>
</body></html>
